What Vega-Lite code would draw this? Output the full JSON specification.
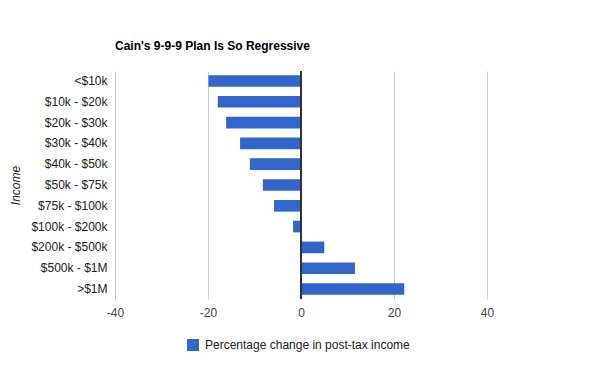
{
  "$schema": "https://vega.github.io/schema/vega-lite/v6.json",
  "width": 372,
  "height": 228,
  "autosize": {"type": "none"},
  "padding": {"left": 115, "top": 71, "right": 113, "bottom": 72},
  "background": "white",
  "config": {
    "font": "Liberation Sans",
    "view": {"stroke": null}
  },
  "title": {
    "text": "Cain's 9-9-9 Plan Is So Regressive",
    "anchor": "start",
    "frame": "group",
    "fontSize": 12,
    "fontWeight": "bold",
    "color": "#000000",
    "baseline": "alphabetic",
    "offset": 9
  },
  "data": {
    "values": [
      {"income": "<$10k", "change": -19.9, "series": "Percentage change in post-tax income"},
      {"income": "$10k - $20k", "change": -17.9, "series": "Percentage change in post-tax income"},
      {"income": "$20k - $30k", "change": -16.1, "series": "Percentage change in post-tax income"},
      {"income": "$30k - $40k", "change": -13.1, "series": "Percentage change in post-tax income"},
      {"income": "$40k - $50k", "change": -11.0, "series": "Percentage change in post-tax income"},
      {"income": "$50k - $75k", "change": -8.2, "series": "Percentage change in post-tax income"},
      {"income": "$75k - $100k", "change": -5.8, "series": "Percentage change in post-tax income"},
      {"income": "$100k - $200k", "change": -1.7, "series": "Percentage change in post-tax income"},
      {"income": "$200k - $500k", "change": 5.0, "series": "Percentage change in post-tax income"},
      {"income": "$500k - $1M", "change": 11.6, "series": "Percentage change in post-tax income"},
      {"income": ">$1M", "change": 22.2, "series": "Percentage change in post-tax income"}
    ]
  },
  "layer": [
    {
      "mark": {"type": "bar"},
      "encoding": {
        "y": {
          "field": "income",
          "type": "nominal",
          "sort": null,
          "scale": {"paddingInner": 0.44, "paddingOuter": 0.2},
          "axis": {
            "title": "Income",
            "titleFontStyle": "italic",
            "titleFontWeight": "normal",
            "titleFontSize": 12,
            "titleColor": "#222222",
            "titleX": -93,
            "labelFontSize": 12,
            "labelColor": "#222222",
            "labelPadding": 8,
            "domain": false,
            "ticks": false,
            "grid": false
          }
        },
        "x": {
          "field": "change",
          "type": "quantitative",
          "scale": {"domain": [-40, 40], "nice": false},
          "axis": {
            "title": null,
            "values": [-40, -20, 0, 20, 40],
            "labelExpr": "'' + datum.value",
            "labelFlush": false,
            "labelFontSize": 12,
            "labelColor": "#444444",
            "labelPadding": 8,
            "domain": false,
            "ticks": false,
            "grid": true,
            "gridColor": "#cccccc"
          }
        },
        "color": {
          "field": "series",
          "type": "nominal",
          "scale": {"range": ["#3366CC"]},
          "legend": {
            "title": null,
            "orient": "none",
            "legendX": 72,
            "legendY": 268,
            "symbolType": "square",
            "symbolSize": 144,
            "symbolOpacity": 1,
            "symbolStrokeWidth": 0,
            "labelFontSize": 12,
            "labelColor": "#222222",
            "labelOffset": 6,
            "labelLimit": 400
          }
        }
      }
    },
    {
      "mark": {"type": "rule", "color": "#333333", "strokeWidth": 1},
      "encoding": {"x": {"datum": 0}}
    }
  ]
}
